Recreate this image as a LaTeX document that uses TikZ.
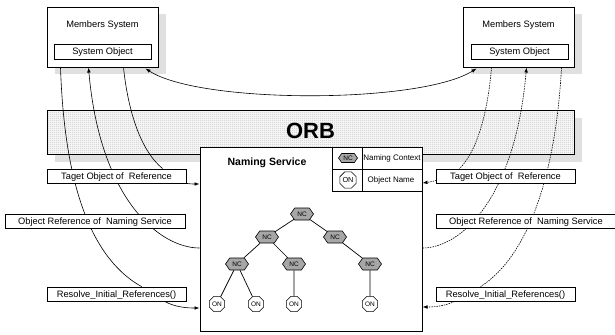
\documentclass[tikz,border=0pt]{standalone}
\usepackage{fontspec}
\setmainfont{Liberation Sans}
\usetikzlibrary{arrows.meta,shapes.symbols,shapes.geometric,calc,patterns.meta}
\pgfdeclarelayer{back}
\pgfdeclarelayer{mid}
\pgfsetlayers{back,mid,main}
\tikzdeclarepattern{
  name=orbdots,
  type=uncolored,
  bounding box={(0bp,0bp) and (2bp,2bp)},
  tile size={(2bp,2bp)},
  code={
    \fill (0bp,0bp) rectangle (1bp,1bp);
    \fill (1bp,1bp) rectangle (2bp,2bp);
  }
}
\tikzset{
 lbl/.style={draw, line width=0.8bp, fill=white, inner sep=0pt, text height=6.7bp, text depth=0bp, font=\fontsize{9.3bp}{11bp}\selectfont},
 txt/.style={inner sep=0pt, font=\fontsize{9.3bp}{11bp}\selectfont},
 frame/.style={draw, line width=1bp, fill=white, inner sep=0pt},
 shade/.style={fill=black!12},
 conn/.style={line width=0.6bp},
 dconn/.style={line width=0.6bp, dash pattern=on 1.5bp off 1bp},
 tipend/.style={-{Latex[length=5bp,width=3.6bp]}},
 tipboth/.style={{Latex[length=5bp,width=3.6bp]}-{Latex[length=5bp,width=3.6bp]}},
 ncnode/.style={signal, signal to=east and west, signal pointer angle=110, draw, line width=0.6bp, fill=black!35, minimum width=23bp, minimum height=12bp, inner sep=0pt, font=\fontsize{6.5bp}{7bp}\selectfont},
 onnode/.style={regular polygon, regular polygon sides=8, draw, line width=0.6bp, fill=white, minimum size=16.5bp, inner sep=0pt, font=\fontsize{6.5bp}{7bp}\selectfont},
 treeline/.style={line width=0.7bp}
}
\begin{document}
\begin{tikzpicture}[x=1bp,y=-1bp]
\useasboundingbox (0,0) rectangle (615,334);

% ---------- background layer: shadows and ORB band
\begin{pgfonlayer}{back}
  \fill[shade] (55,14) rectangle (166,74);
  \fill[shade] (471,14) rectangle (582,74);
  \fill[shade] (55,118) rectangle (582,162);
  \node[draw, line width=0.8bp, inner sep=0pt, minimum width=527bp, minimum height=44bp,
        preaction={fill=white}, pattern=orbdots, pattern color=black!32] (orb) at (310.5,132) {};
  \node[anchor=base, inner sep=0pt, font=\fontsize{22bp}{24bp}\bfseries] (orbt) at (310.5,138) {ORB};
\end{pgfonlayer}

% ---------- members systems
\node[frame, minimum width=111bp, minimum height=60bp] (memL) at (102.5,37) {};
\node[txt, anchor=base] (memLt) at (102.5,27.5) {Members System};
\node[lbl, minimum width=97bp, minimum height=15bp] (sysL) at (102.5,51.5) {System Object};

\node[frame, minimum width=111bp, minimum height=60bp] (memR) at (518.5,37) {};
\node[txt, anchor=base] (memRt) at (518.5,27.5) {Members System};
\node[lbl, minimum width=97bp, minimum height=15bp] (sysR) at (519.5,51.5) {System Object};

% ---------- naming service
\node[frame, minimum width=222bp, minimum height=184bp] (NS) at (311,239) {};
\node[anchor=base, inner sep=0pt, font=\fontsize{10.5bp}{12bp}\bfseries] (nst) at (267,165) {Naming Service};

% legend
\node[draw, line width=0.8bp, inner sep=0pt, minimum width=90bp, minimum height=44bp, anchor=north east] (legend) at (NS.north east) {};
\draw[line width=0.8bp] ($(legend.north west)+(31,0)$) -- ($(legend.south west)+(31,0)$);
\draw[line width=0.8bp] (legend.west) -- (legend.east);
\node[ncnode, minimum width=19bp, minimum height=9bp, font=\fontsize{6.5bp}{7bp}\selectfont] (lgnc) at (348,158) {NC};
\node[onnode, minimum size=17.5bp, font=\fontsize{7.3bp}{8bp}\selectfont] (lgon) at (348,180) {ON};
\node[anchor=base, inner sep=0pt, font=\fontsize{8bp}{9bp}\selectfont] (lgnct) at (392,160.9) {Naming Context};
\node[anchor=base, inner sep=0pt, font=\fontsize{8bp}{9bp}\selectfont] (lgont) at (391,182.9) {Object Name};

% tree
\node[ncnode] (r)  at (302,214) {NC};
\node[ncnode] (a)  at (267,237) {NC};
\node[ncnode] (b)  at (335,237) {NC};
\node[ncnode] (a1) at (237,264) {NC};
\node[ncnode] (a2) at (294,264) {NC};
\node[ncnode] (b1) at (370,264) {NC};
\node[onnode] (o1) at (217,304) {ON};
\node[onnode] (o2) at (256,304) {ON};
\node[onnode] (o3) at (294,304) {ON};
\node[onnode] (o4) at (370,304) {ON};
\draw[treeline] (r) -- (a);
\draw[treeline] (r) -- (b);
\draw[treeline] (a) -- (a1);
\draw[treeline] (a) -- (a2);
\draw[treeline] (b) -- (b1);
\draw[treeline] (a1) -- (o1);
\draw[treeline] (a1) -- (o2);
\draw[treeline] (a2) -- (o3);
\draw[treeline] (b1) -- (o4);

% ---------- label boxes
\node[lbl, minimum width=139bp, minimum height=14bp] (tagL) at (116.5,176) {Taget Object of~~Reference};
\node[lbl, minimum width=180bp, minimum height=14bp] (orefL) at (95,221) {Object Reference of~~Naming Service};
\node[lbl, minimum width=139bp, minimum height=14bp] (resL) at (116.5,294) {Resolve\_Initial\_References()};

\node[lbl, minimum width=139bp, minimum height=14bp] (tagR) at (505.5,176) {Taget Object of~~Reference};
\node[lbl, minimum width=180bp, minimum height=14bp] (orefR) at (526,221) {Object Reference of~~Naming Service};
\node[lbl, minimum width=139bp, minimum height=14bp] (resR) at (505.5,294) {Resolve\_Initial\_References()};

% ---------- connectors
\begin{pgfonlayer}{mid}
  % left side (solid)
  \draw[conn] ($(memL.south west)+(14,0)$) .. controls (64,170) and (85,255) .. ($(resL.north west)+(95,0)$);
  \draw[conn,tipend] ($(NS.west)+(0,9)$) .. controls (160,248) and (100,200) .. ($(memL.south west)+(42,0)$);
  \draw[conn] ($(memL.south west)+(77,0)$) .. controls (128,110) and (140,150) .. ($(tagL.north west)+(116,0)$);
  \draw[conn,tipend] (tagL.south east) .. controls (192,184) .. ($(NS.west)+(0,-55)$);
  \draw[conn,tipend] ($(resL.south west)+(118,0)$) .. controls (175,307) and (186,308) .. ($(NS.west)+(0,69)$);
  % right side (dashed)
  \draw[dconn] ($(memR.south west)+(29,0)$) .. controls (488,110) and (478,150) .. ($(tagR.north west)+(24,0)$);
  \draw[dconn,tipend] ($(NS.east)+(0,9)$) .. controls (460,248) and (515,200) .. ($(memR.south west)+(64,0)$);
  \draw[dconn] ($(memR.south west)+(99,0)$) .. controls (556,170) and (530,255) .. ($(resR.north west)+(45,0)$);
  \draw[dconn,tipend] ($(tagR.south west)+(1,-3)$) .. controls (430,182) .. ($(NS.east)+(0,-56)$);
  \draw[dconn,tipend] ($(resR.south west)+(19,0)$) .. controls (445,306) and (434,307) .. ($(NS.east)+(0,68)$);
  % top link between the two systems
  \draw[conn,tipboth] ($(memL.south east)+(-13,1)$) .. controls (200,104) and (420,104) .. ($(memR.south west)+(14,1)$);
\end{pgfonlayer}
\end{tikzpicture}
\end{document}
